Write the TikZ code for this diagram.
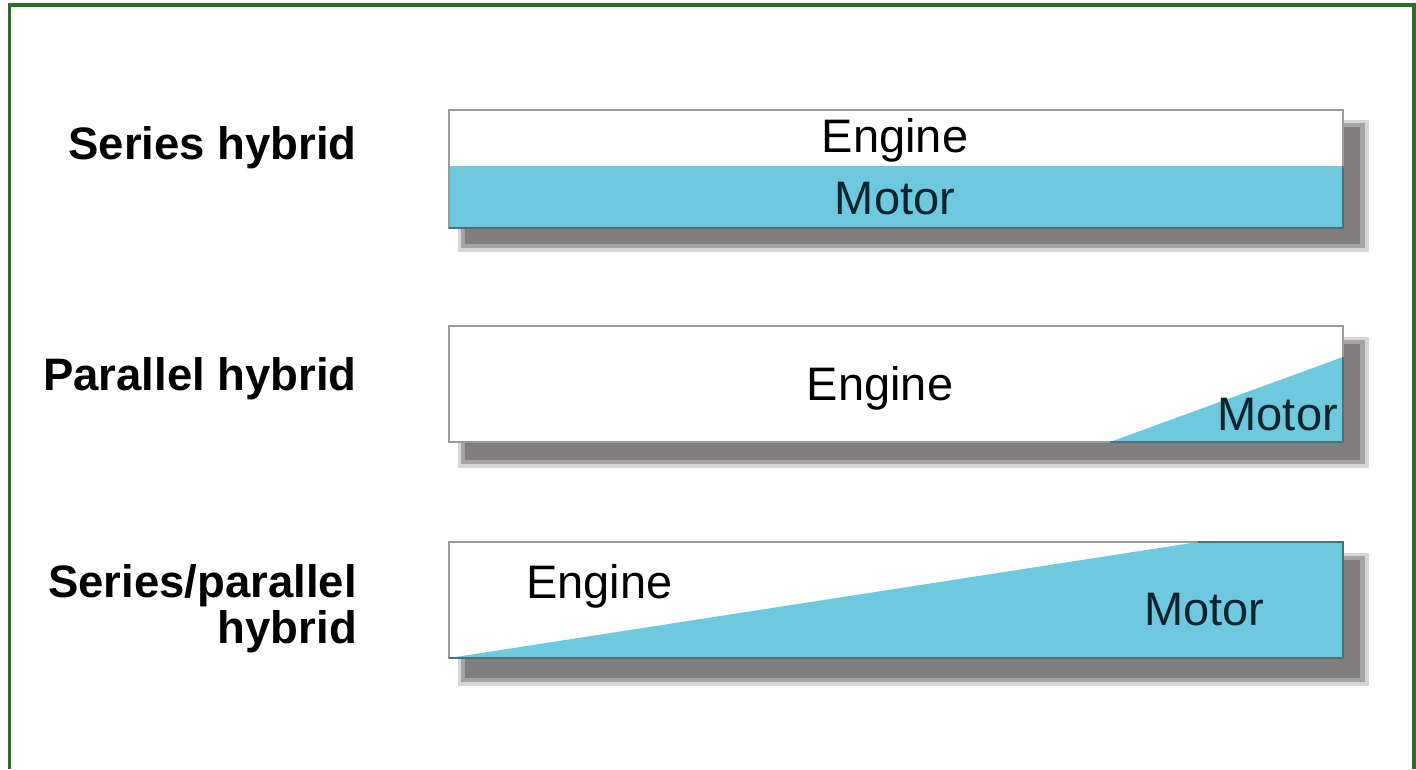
\documentclass[tikz,border=0pt]{standalone}
\usepackage{fontspec}
\setmainfont{Liberation Sans}
\definecolor{frameg}{RGB}{42,110,42}
\definecolor{motorblue}{RGB}{110,200,222}
\definecolor{bedge}{RGB}{155,155,155}
\definecolor{tedge}{RGB}{75,115,125}
\definecolor{shadd}{RGB}{128,126,126}
\definecolor{shadm}{RGB}{165,163,163}
\definecolor{shadl}{RGB}{215,213,213}
\definecolor{motortext}{RGB}{10,35,45}
\begin{document}
\begin{tikzpicture}[x=1pt,y=-1pt,
  lbl/.style={font=\fontsize{45.5}{48}\selectfont\bfseries, anchor=base east, inner sep=0pt},
  txt/.style={font=\fontsize{47}{48}\selectfont, anchor=base, inner sep=0pt},
  mtxt/.style={txt, text=motortext},
  barline/.style={draw=bedge, line width=2pt},
  teal/.style={draw=tedge, line width=2.5pt}]
\useasboundingbox (0,0) rectangle (1416,769);
\fill[white] (0,0) rectangle (1416,769);
\draw[frameg, line width=3.5pt] (9.5,769) -- (9.5,5) -- (1414,5) -- (1414,769);

% labels
\node[lbl] (l1) at (357,159) {Series hybrid};
\node[lbl] (l2) at (357,390) {Parallel hybrid};
\node[lbl] (l3a) at (357,597) {Series/parallel};
\node[lbl] (l3b) at (357,643) {hybrid};

% ---- bar 1 ----
\fill[shadl] (458,120) rectangle (1369,252);
\fill[shadm] (461,123) rectangle (1365,248);
\fill[shadd] (465,127) rectangle (1360,244);
\fill[white] (449,110) rectangle (1343,228);
\fill[motorblue] (449,166) rectangle (1343,228);
\draw[barline] (449,110) rectangle (1343,228);
\draw[teal] (449,228) -- (1343,228) -- (1343,166);
\node[txt] (e1) at (895,152) {Engine};
\node[mtxt] (m1) at (895,214) {Motor};

% ---- bar 2 ----
\fill[shadl] (458,337) rectangle (1369,468);
\fill[shadm] (461,340) rectangle (1365,464);
\fill[shadd] (465,344) rectangle (1360,460);
\fill[white] (449,326) rectangle (1343,442);
\fill[motorblue] (1110,442) -- (1343,357) -- (1343,442) -- cycle;
\draw[barline] (449,326) rectangle (1343,442);
\draw[teal] (1110,442) -- (1343,442) -- (1343,357);
\node[txt] (e2) at (880,400) {Engine};
\node[mtxt, anchor=base east] (m2) at (1338,430) {Motor};

% ---- bar 3 ----
\fill[shadl] (458,553) rectangle (1369,686);
\fill[shadm] (461,556) rectangle (1365,682);
\fill[shadd] (465,560) rectangle (1360,678);
\fill[white] (449,542) rectangle (1343,658);
\fill[motorblue] (449,658) -- (1198,542) -- (1343,542) -- (1343,658) -- cycle;
\draw[barline] (449,542) rectangle (1343,658);
\draw[teal] (449,658) -- (1343,658) -- (1343,542) -- (1198,542);
\node[txt, anchor=base west] (e3) at (526,598) {Engine};
\node[mtxt, anchor=base west] (m3) at (1144,625) {Motor};
\end{tikzpicture}
\end{document}
